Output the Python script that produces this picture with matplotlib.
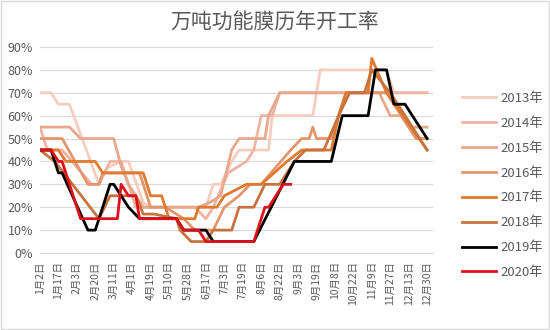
import matplotlib
matplotlib.use("Agg")
import matplotlib.pyplot as plt
from matplotlib.patches import Rectangle

plt.rcParams['font.family'] = ['Noto Sans CJK SC', 'DejaVu Sans']

title = "万吨功能膜历年开工率"
tick_labels = ["1月2日", "1月17日", "2月3日", "2月20日", "3月11日", "4月1日", "4月19日",
               "5月10日", "5月28日", "6月17日", "7月3日", "7月19日", "8月6日", "8月22日",
               "9月3日", "9月19日", "10月8日", "10月22日", "11月9日", "11月27日",
               "12月13日", "12月30日"]
n_points = 106  # one label every 5 points

# each series: breakpoint positions (point index) and values (%)
x2013 = [0, 3, 5, 8, 16, 18, 22, 24, 28, 30, 43, 45, 47, 49, 52, 54, 62, 63, 74, 76, 94, 96, 105]
y2013 = [70, 70, 65, 65, 30, 37, 40, 40, 22, 20, 20, 20, 30, 30, 40, 45, 45, 60, 60, 80, 80, 70, 70]

x2014 = [0, 2, 6, 14, 16, 19, 22, 26, 42, 45, 47, 51, 56, 58, 60, 63, 65, 105]
y2014 = [55, 45, 45, 30, 30, 40, 40, 20, 20, 15, 20, 35, 40, 45, 60, 60, 70, 70]

x2015 = [0, 8, 11, 20, 22, 24, 28, 43, 46, 49, 52, 54, 61, 62, 65, 92, 95, 98, 100, 105]
y2015 = [55, 55, 50, 50, 38, 30, 20, 20, 22, 25, 45, 50, 50, 60, 70, 70, 60, 60, 55, 55]

x2016 = [0, 6, 13, 16, 17, 27, 30, 34, 39, 42, 47, 50, 54, 57, 60, 68, 71, 73, 74, 75, 79, 83, 94, 102, 105]
y2016 = [50, 50, 30, 30, 35, 35, 20, 20, 15, 10, 10, 20, 25, 30, 30, 45, 50, 50, 55, 50, 50, 70, 70, 50, 50]

x2017 = [0, 5, 7, 15, 17, 28, 30, 33, 35, 42, 43, 48, 50, 56, 60, 67, 71, 79, 81, 83, 89, 90, 94, 105]
y2017 = [45, 45, 40, 40, 35, 35, 25, 25, 15, 15, 20, 20, 25, 30, 30, 40, 45, 45, 60, 70, 70, 85, 70, 45]

x2018 = [0, 4, 16, 19, 26, 28, 31, 37, 38, 41, 45, 47, 52, 54, 58, 61, 65, 69, 72, 77, 81, 84, 88, 90, 95, 103, 105]
y2018 = [45, 40, 15, 25, 25, 17, 17, 15, 10, 5, 5, 10, 10, 20, 20, 30, 30, 40, 45, 45, 60, 70, 70, 80, 70, 50, 45]

x2019 = [0, 3, 5, 6, 13, 15, 19, 20, 24, 27, 37, 39, 45, 47, 58, 69, 79, 82, 89, 91, 94, 96, 99, 105]
y2019 = [45, 45, 35, 35, 10, 10, 30, 30, 20, 15, 15, 10, 10, 5, 5, 40, 40, 60, 60, 80, 80, 65, 65, 50]

x2020 = [0, 3, 5, 6, 11, 21, 22, 24, 26, 27, 37, 39, 43, 45, 58, 61, 62, 66, 68]
y2020 = [45, 45, 40, 40, 15, 15, 30, 25, 25, 15, 15, 10, 10, 5, 5, 20, 20, 30, 30]

series = [
    ("2013年", x2013, y2013, "#F6CDBF"),
    ("2014年", x2014, y2014, "#F2B3A3"),
    ("2015年", x2015, y2015, "#E9A88C"),
    ("2016年", x2016, y2016, "#E3956B"),
    ("2017年", x2017, y2017, "#E07A30"),
    ("2018年", x2018, y2018, "#C8733E"),
    ("2019年", x2019, y2019, "#000000"),
    ("2020年", x2020, y2020, "#E0101A"),
]

fig = plt.figure(figsize=(5.5, 3.3), dpi=100)
ax = fig.add_axes([40 / 550, 1 - 253 / 330, 393 / 550, 206 / 330])

for name, xs, ys, color in series:
    ax.plot(xs, ys, color=color, lw=2.0, label=name)

ax.set_xlim(0, 106.6)
ax.set_ylim(0, 90)
ax.set_yticks(range(0, 91, 10))
ax.set_yticklabels([f"{v}%" for v in range(0, 91, 10)])
ax.set_xticks(range(0, n_points, 5))
ax.set_xticklabels(tick_labels, rotation=90)
ax.tick_params(axis='both', length=0, colors="#595959")
ax.tick_params(axis='y', labelsize=9, pad=5)
ax.tick_params(axis='x', labelsize=7.5, pad=6)
ax.grid(axis='y', color="#D9D9D9", lw=0.8)
ax.set_axisbelow(True)
for s in ["top", "right", "left"]:
    ax.spines[s].set_visible(False)
ax.spines["bottom"].set_color("#D9D9D9")

fig.text(0.5, 0.93, title, ha="center", va="center", fontsize=15, color="#595959")

leg = fig.legend(loc="upper left", bbox_to_anchor=(450 / 550, 1 - 80 / 330), frameon=False,
                 handlelength=2.6, labelspacing=0.9, fontsize=9.5, handletextpad=0.3)
for t in leg.get_texts():
    t.set_color("#595959")

fig.patches.append(Rectangle((0.002, 0.003), 0.996, 0.994, transform=fig.transFigure,
                             fill=False, edgecolor="#D9D9D9", lw=1))

fig.savefig("out.png", dpi=100)
